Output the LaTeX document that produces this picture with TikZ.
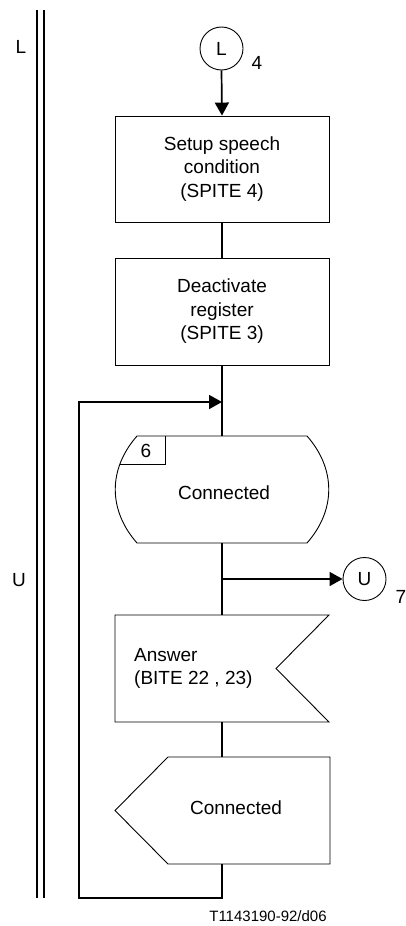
\documentclass[tikz,border=0pt]{standalone}
\usepackage{fontspec}
\setmainfont{Liberation Sans}
\usetikzlibrary{arrows.meta}
\begin{document}
\begin{tikzpicture}[x=1pt,y=-1pt,
  txt/.style={font=\fontsize{19}{23.5}\selectfont, align=center, inner sep=0pt},
  outline/.style={line width=0.9pt},
  conn/.style={line width=1.7pt},
  arr/.style={conn,-{Triangle[width=14pt,length=13pt]}},
  conncirc/.style={circle, draw, outline, minimum size=43pt, inner sep=0pt, font=\fontsize{19}{22}\selectfont},
  procbox/.style={rectangle, draw, outline, minimum width=214pt, txt},
  frame/.style={rectangle, inner sep=0pt, minimum width=214pt, txt}
]
\useasboundingbox (0,0) rectangle (406,926);
% double vertical lines
\draw[conn] (37,10) -- (37,898);
\draw[conn] (44,10) -- (44,898);
\node[txt] (lblL) at (21,47) {L};
\node[txt] (lblU) at (19,580) {U};

% connector L
\node[conncirc] (cL) at (221.5,48.5) {L};
\node[txt] (n4) at (257,63) {4};

% boxes
\node[procbox, minimum height=106pt] (b1) at (222,169) {Setup speech\\condition\\(SPITE 4)};
\node[procbox, minimum height=107pt] (b2) at (222,311.5) {Deactivate\\register\\(SPITE 3)};

% state
\node[frame, minimum height=107pt] (st) at (222,489.5) {};
\node[txt] (stt) at (224,493) {Connected};
\draw[outline] (137,436) -- (307,436) .. controls (336,469) and (336,510) .. (307,543)
  -- (137,543) .. controls (108,510) and (108,469) .. (137,436) -- cycle;
\draw[outline] (165,436) -- (165,464) -- (120,464);
\node[txt] (s6) at (146,451) {6};

% connector U
\node[conncirc] (cU) at (364.5,579) {U};
\node[txt] (n7) at (401,597) {7};

% input signal
\node[frame, minimum height=107pt] (in) at (222,668.5) {};
\draw[outline] (115,615) -- (329,615) -- (276,668.5) -- (329,722) -- (115,722) -- cycle;
\node[txt, align=left, anchor=west] (intxt) at (134,668.5) {Answer\\(BITE 22 , 23)};

% output signal
\node[frame, minimum height=107pt, minimum width=215pt] (out) at (222.5,810.5) {};
\draw[outline] (115,810.5) -- (168,757) -- (330,757) -- (330,864) -- (168,864) -- cycle;
\node[txt] (outtxt) at (236,808) {Connected};

% caption
\node[font=\fontsize{15}{18}\selectfont, inner sep=0pt] (cap) at (268,916) {T1143190-92/d06};

% connectors
\coordinate (j1) at (222,402);
\coordinate (j2) at (222,579);
\coordinate (lb) at (222,898);
\coordinate (ll) at (79,898);
\coordinate (lt) at (79,402);
\draw[arr] (cL.south) -- (b1.north);
\draw[conn] (b1.south) -- (b2.north);
\draw[conn] (b2.south) -- (st.north);
\draw[conn] (st.south) -- (in.north);
\draw[arr] (j2) -- (cU.west);
\draw[conn] (in.south) -- (out.north -| in.south);
\draw[arr] (out.south -| in.south) -- (lb) -- (ll) -- (lt) -- (j1);
\end{tikzpicture}
\end{document}
